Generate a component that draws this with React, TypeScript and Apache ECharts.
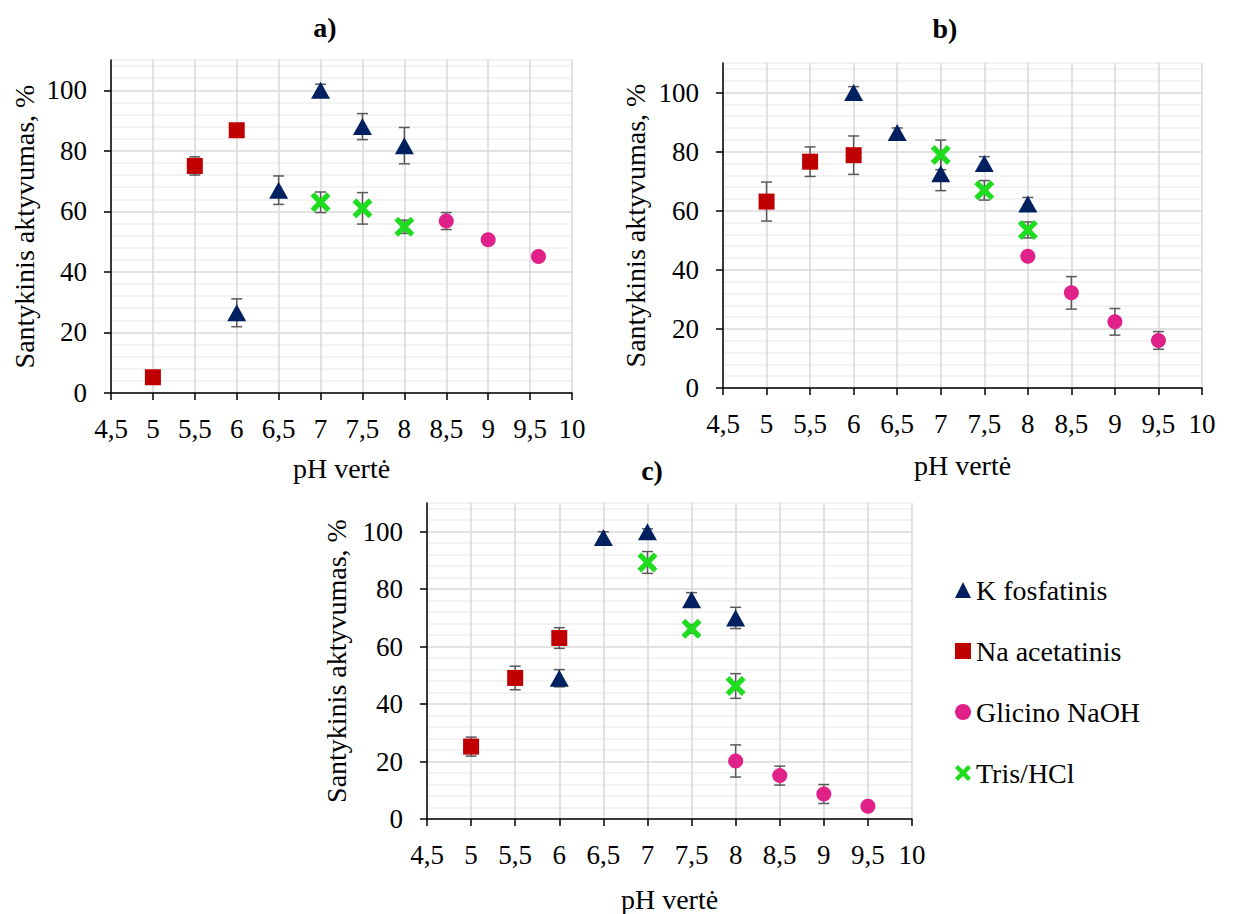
import React, { useEffect, useRef } from 'react';
import * as echarts from 'echarts';

// ---------- DATA ----------
const SERIES_NAMES = ['K fosfatinis', 'Na acetatinis', 'Glicino NaOH', 'Tris/HCl'];
const PANEL_TITLES = ['a)', 'b)', 'c)'];
const X_AXIS_NAME = 'pH vertė';
const Y_AXIS_NAME = 'Santykinis aktyvumas, %';
const Y_MAJOR_TICKS = [0, 20, 40, 60, 80, 100];

// Panel a
const aKx = [6, 6.5, 7, 7.5, 8];
const aKy = [26.5, 67, 100, 88, 81.7];
const aKe = [4.6, 4.7, 2, 4.3, 6];
const aNx = [5, 5.5, 6];
const aNy = [5.2, 75, 86.8];
const aNe = [1, 3, 1];
const aGx = [8.5, 9, 9.6];
const aGy = [56.8, 50.6, 45.1];
const aGe = [2.8, 1, 1];
const aTx = [7, 7.5, 8];
const aTy = [63, 61, 54.9];
const aTe = [3.4, 5.2, 2.2];

// Panel b
const bKx = [6, 6.5, 7, 7.5, 8];
const bKy = [100, 86.5, 72.5, 76, 62.3];
const bKe = [2, 1.5, 5.7, 2.3, 2.2];
const bNx = [5, 5.5, 6];
const bNy = [63.1, 76.6, 78.8];
const bNe = [6.6, 5, 6.5];
const bGx = [8, 8.5, 9, 9.5];
const bGy = [44.6, 32.2, 22.4, 16.1];
const bGe = [1, 5.5, 4.5, 3];
const bTx = [7, 7.5, 8];
const bTy = [78.9, 66.9, 53.5];
const bTe = [5, 3.3, 2.7];

// Panel c
const cKx = [6, 6.5, 7, 7.5, 8];
const cKy = [49, 98, 100, 76.3, 70];
const cKe = [3, 2, 1, 2.5, 3.7];
const cNx = [5, 5.5, 6];
const cNy = [25.2, 49.1, 63];
const cNe = [3.3, 4.1, 3.6];
const cGx = [8, 8.5, 9, 9.5];
const cGy = [20.2, 15.1, 8.7, 4.4];
const cGe = [5.6, 3.3, 3.3, 1];
const cTx = [7, 7.5, 8];
const cTy = [89.3, 66.2, 46.3];
const cTe = [3.8, 1.5, 4.3];

const PANELS = [
  [[aKx, aKy, aKe], [aNx, aNy, aNe], [aGx, aGy, aGe], [aTx, aTy, aTe]],
  [[bKx, bKy, bKe], [bNx, bNy, bNe], [bGx, bGy, bGe], [bTx, bTy, bTe]],
  [[cKx, cKy, cKe], [cNx, cNy, cNe], [cGx, cGy, cGe], [cTx, cTy, cTe]],
];

// ---------- STYLE / LAYOUT ----------
const FONT = 'Liberation Serif';
const COLORS = ['#002060', '#C00000', '#E0218A', '#1EDC1E'];
const X_PATH =
  'path://M0,1.9L1.9,0L5,3.1L8.1,0L10,1.9L6.9,5L10,8.1L8.1,10L5,6.9L1.9,10L0,8.1L3.1,5Z';
const SYMBOLS = ['triangle', 'rect', 'circle', X_PATH];
const SIZES: any[] = [[19, 17], 16, 15, 20];

const GRIDS = [
  { left: 111, top: 60, width: 461, height: 333 },
  { left: 723, top: 63, width: 479, height: 325 },
  { left: 427, top: 503, width: 485, height: 318 },
];
const TITLE_POS = [
  { x: 325, y: 27 },
  { x: 945, y: 28 },
  { x: 652, y: 470 },
];
const X_NAME_GAP = [61, 63, 66];
const Y_NAME_GAP = [73, 74, 77];

function buildOption() {
  const grid = GRIDS.map((g) => ({ ...g, containLabel: false }));
  const xAxis: any[] = [];
  const yAxis: any[] = [];
  const series: any[] = [];

  GRIDS.forEach((_, gi) => {
    xAxis.push({
      type: 'value',
      gridIndex: gi,
      position: 'bottom',
      min: 4.5,
      max: 10,
      interval: 0.5,
      name: X_AXIS_NAME,
      nameLocation: 'middle',
      nameGap: X_NAME_GAP[gi],
      nameTextStyle: { fontFamily: FONT, fontSize: 28, color: '#000' },
      axisLine: { show: true, onZero: false, lineStyle: { color: '#000', width: 1.5 } },
      axisTick: { show: true, length: 7, lineStyle: { color: '#000', width: 1.5 } },
      axisLabel: {
        fontFamily: FONT,
        fontSize: 27,
        color: '#000',
        margin: 22,
        formatter: (v: number) => String(v).replace('.', ','),
      },
      splitLine: { show: true, lineStyle: { color: '#d9d9d9', width: 1.5 } },
    });
    // minor + major horizontal grid lines
    yAxis.push({
      type: 'value',
      gridIndex: gi,
      position: 'left',
      offset: 0,
      min: 0,
      max: 110,
      interval: 4,
      axisLine: { show: false },
      axisTick: { show: false },
      axisLabel: { show: false },
      splitLine: {
        show: true,
        lineStyle: {
          color: ['#d9d9d9', '#efefef', '#efefef', '#efefef', '#efefef'],
          width: 1.5,
        },
      },
    });
    // visible value axis
    yAxis.push({
      type: 'value',
      gridIndex: gi,
      position: 'left',
      offset: 0,
      min: 0,
      max: 110,
      interval: 20,
      name: Y_AXIS_NAME,
      nameLocation: 'middle',
      nameGap: Y_NAME_GAP[gi],
      nameTextStyle: { fontFamily: FONT, fontSize: 28, color: '#000' },
      axisLine: { show: true, onZero: false, lineStyle: { color: '#000', width: 1.5 } },
      axisTick: {
        show: true,
        length: 7,
        customValues: Y_MAJOR_TICKS,
        lineStyle: { color: '#000', width: 1.5 },
      },
      axisLabel: {
        fontFamily: FONT,
        fontSize: 27,
        color: '#000',
        margin: 24,
        customValues: Y_MAJOR_TICKS,
        formatter: (v: number) => (v > 100 ? '' : String(v)),
      },
      splitLine: { show: false },
    });

    const panel = PANELS[gi];
    // error bars (under markers)
    panel.forEach(([xs, ys, es], si) => {
      series.push({
        type: 'custom',
        name: 'err-' + gi + '-' + si,
        xAxisIndex: gi,
        yAxisIndex: gi * 2 + 1,
        z: 1,
        silent: true,
        encode: { x: 0, y: [1, 2] },
        data: xs.map((x: number, i: number) => [x, ys[i] - es[i], ys[i] + es[i]]),
        renderItem: (params: any, api: any) => {
          const x = api.value(0);
          const lo = api.coord([x, api.value(1)]);
          const hi = api.coord([x, api.value(2)]);
          const hw = 5.5;
          const st = { stroke: '#595959', lineWidth: 1.5 };
          return {
            type: 'group',
            children: [
              { type: 'line', shape: { x1: hi[0], y1: hi[1], x2: lo[0], y2: lo[1] }, style: st },
              { type: 'line', shape: { x1: hi[0] - hw, y1: hi[1], x2: hi[0] + hw, y2: hi[1] }, style: st },
              { type: 'line', shape: { x1: lo[0] - hw, y1: lo[1], x2: lo[0] + hw, y2: lo[1] }, style: st },
            ],
          };
        },
      });
    });
    panel.forEach(([xs, ys], si) => {
      series.push({
        type: 'scatter',
        name: SERIES_NAMES[si],
        xAxisIndex: gi,
        yAxisIndex: gi * 2 + 1,
        z: 3,
        symbol: SYMBOLS[si],
        symbolSize: SIZES[si],
        itemStyle: { color: COLORS[si], opacity: 1 },
        data: xs.map((x: number, i: number) => [x, ys[i]]),
      });
    });
  });

  return {
    animation: false,
    backgroundColor: '#fff',
    textStyle: { fontFamily: FONT },
    graphic: PANEL_TITLES.map((t, i) => ({
      type: 'text',
      x: TITLE_POS[i].x,
      y: TITLE_POS[i].y,
      style: {
        text: t,
        fontFamily: FONT,
        fontSize: 28,
        fontWeight: 'bold',
        fill: '#000',
        align: 'center',
        verticalAlign: 'middle',
      },
    })),
    legend: {
      orient: 'vertical',
      left: 950,
      top: 571,
      itemGap: 33,
      itemWidth: 16,
      itemHeight: 16,
      selectedMode: false,
      data: SERIES_NAMES,
      textStyle: { fontFamily: FONT, fontSize: 28, color: '#000' },
    },
    grid,
    xAxis,
    yAxis,
    series,
  };
}

export default function App() {
  const ref = useRef<HTMLDivElement>(null);
  useEffect(() => {
    if (!ref.current) return;
    const chart = echarts.init(ref.current, undefined, { renderer: 'svg' });
    chart.setOption(buildOption() as any);
    return () => chart.dispose();
  }, []);
  return (
    <div
      ref={ref}
      style={{ position: 'absolute', left: 0, top: 0, width: 1251, height: 914, background: '#fff' }}
    />
  );
}
